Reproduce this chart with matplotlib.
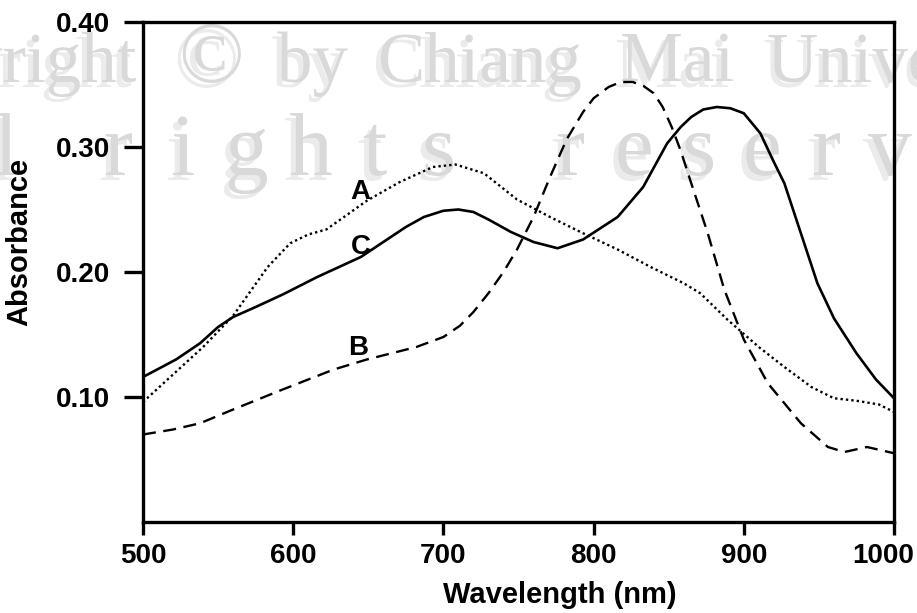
"""
Absorbance spectra A, B and C between 500 and 1000 nm.
"""
import matplotlib.pyplot as plt
from matplotlib.transforms import ScaledTranslation

# curve A (dotted)
wl_a = [500, 520, 540, 560, 583, 598, 610, 622, 635, 649, 671, 693, 708, 727,
        749, 771, 793, 816, 838, 860, 871, 889, 910, 927, 945, 960, 975, 990, 1000]
abs_a = [0.096, 0.118, 0.140, 0.165, 0.204, 0.223, 0.230, 0.234, 0.245, 0.257,
         0.272, 0.284, 0.286, 0.279, 0.258, 0.244, 0.231, 0.218, 0.204, 0.191,
         0.183, 0.162, 0.140, 0.124, 0.108, 0.099, 0.097, 0.094, 0.088]

# curve B (dashed)
wl_b = [500, 520, 538, 560, 593, 627, 649, 682, 700, 711, 720, 730, 740, 749,
        760, 771, 782, 793, 800, 810, 818, 826, 833, 840, 846, 852, 858, 865,
        876, 887, 900, 916, 938, 956, 967, 982, 1000]
abs_b = [0.070, 0.074, 0.079, 0.090, 0.106, 0.122, 0.130, 0.140, 0.148, 0.157,
         0.168, 0.183, 0.200, 0.218, 0.244, 0.276, 0.306, 0.328, 0.339, 0.348,
         0.352, 0.352, 0.349, 0.343, 0.332, 0.316, 0.297, 0.271, 0.231, 0.186,
         0.146, 0.111, 0.079, 0.060, 0.056, 0.060, 0.055]

# curve C (solid)
wl_c = [500, 522, 538, 550, 560, 575, 593, 616, 645, 660, 675, 687, 700, 710,
        720, 730, 745, 760, 776, 793, 816, 833, 849, 858, 865, 873, 882, 891,
        900, 911, 920, 927, 938, 949, 960, 975, 988, 1000]
abs_c = [0.116, 0.130, 0.143, 0.156, 0.164, 0.172, 0.182, 0.196, 0.212, 0.224,
         0.236, 0.244, 0.249, 0.250, 0.248, 0.242, 0.232, 0.224, 0.219, 0.226,
         0.244, 0.268, 0.303, 0.316, 0.324, 0.330, 0.332, 0.331, 0.327, 0.311,
         0.288, 0.271, 0.231, 0.191, 0.163, 0.135, 0.114, 0.099]

# curve labels: (text, wavelength, absorbance)
curve_labels = [("A", 645, 0.264), ("C", 645, 0.220), ("B", 643, 0.139)]

x_ticks = [500, 600, 700, 800, 900, 1000]
y_ticks = [0.10, 0.20, 0.30, 0.40]
y_ticklabels = ["0.10", "0.20", "0.30", "0.40"]

W, H = 917, 613
fig = plt.figure(figsize=(W / 100, H / 100), dpi=100)
ax = fig.add_axes([143 / W, 1 - 522 / H, 751 / W, 500 / H])
ax.set_facecolor("none")

font = ["Liberation Sans", "DejaVu Sans"]
serif = ["Liberation Serif", "DejaVu Serif"]

# copyright watermark behind the plot: (text, x px, alignment, size)
wm_row1 = [("Copyright", 137, "right", 51), ("\u00a9", 211, "center", 62),
           ("by", 277, "left", 51), ("Chiang", 377, "left", 51),
           ("Mai", 620, "left", 51), ("University", 767, "left", 51)]
# spaced-out second row: (word, x of first letter centre)
wm_row2 = [("All", -123), ("rights", 118), ("reserved", 570)]

for dx, dy, col in [(-5, -5, "#ebebeb"), (0, 0, "#d9d9d9")]:
    for word, x, ha, size in wm_row1:
        fig.text((x + dx) / W, 1 - (82 - dy) / H, word, fontsize=size,
                 family=serif, color=col, ha=ha, va="baseline", zorder=-2)
    for word, x0 in wm_row2:
        for k, ch in enumerate(word):
            fig.text((x0 + k * 64 + dx) / W, 1 - (175 - dy) / H, ch,
                     fontsize=63, family=serif, color=col, ha="center",
                     va="baseline", zorder=-2)

ax.plot(wl_a, abs_a, color="black", lw=1.7, linestyle=(0, (1, 1.3)))
ax.plot(wl_b, abs_b, color="black", lw=1.7, linestyle=(0, (5.5, 3.2)))
ax.plot(wl_c, abs_c, color="black", lw=1.9, linestyle="-")

for text, x, y in curve_labels:
    ax.text(x, y, text, fontsize=20, fontweight="bold", family=font,
            ha="center", va="center")

ax.set_xlim(500, 1000)
ax.set_ylim(0, 0.40)
ax.set_xticks(x_ticks)
ax.set_yticks(y_ticks)
ax.set_yticklabels(y_ticklabels)

for spine in ax.spines.values():
    spine.set_linewidth(2.4)
ax.tick_params(axis="x", direction="out", length=9, width=2.4, pad=6)
ax.tick_params(axis="y", direction="out", length=13.5, width=2.4, pad=10)
for lab in ax.get_xticklabels() + ax.get_yticklabels():
    lab.set_fontsize(20)
    lab.set_fontweight("bold")
    lab.set_family(font)

# the last x label sits a little left so it stays inside the picture
last = ax.get_xticklabels()[-1]
last.set_transform(last.get_transform()
                   + ScaledTranslation(-0.11, 0, fig.dpi_scale_trans))

ax.set_xlabel("Wavelength (nm)", fontsize=21, fontweight="bold", family=font)
ax.set_ylabel("Absorbance", fontsize=21, fontweight="bold", family=font)
ax.xaxis.set_label_coords(0.555, -0.118)
ax.yaxis.set_label_coords(-0.146, 0.56)

fig.savefig("out.png", dpi=100)
